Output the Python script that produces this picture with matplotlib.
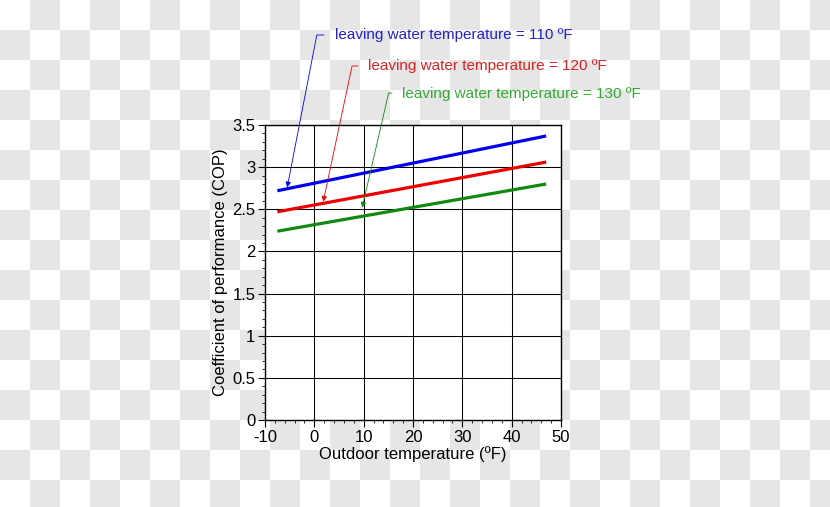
import numpy as np
import matplotlib
matplotlib.use("Agg")
import matplotlib.pyplot as plt

plt.rcParams["font.family"] = ["Liberation Sans", "DejaVu Sans"]
plt.rcParams["axes.unicode_minus"] = False

# data
outdoor = [-7.5, 47]
cop_110 = [2.72, 3.37]
cop_120 = [2.47, 3.06]
cop_130 = [2.24, 2.80]
labels = ["leaving water temperature = 110 ºF",
          "leaving water temperature = 120 ºF",
          "leaving water temperature = 130 ºF"]
colors = ["#0000ee", "#ee0000", "#108a10"]
text_colors = ["#2222cc", "#dd2222", "#33aa33"]
# where each arrow points (data coords)
arrow_tips = [(-5.5, 2.76), (1.8, 2.59), (9.7, 2.52)]

W, H = 830, 507
fig = plt.figure(figsize=(W / 100, H / 100), dpi=100)

# checkerboard backdrop
bg = fig.add_axes([0, 0, 1, 1])
cell = 30
ny, nx = H // cell + 1, W // cell + 1
board = np.indices((ny, nx)).sum(axis=0) % 2
bg.imshow(board, cmap=matplotlib.colors.ListedColormap(["white", "#e6e6e6"]),
          extent=[0, nx * cell, ny * cell, 0], interpolation="nearest")
bg.set_xlim(0, W)
bg.set_ylim(H, 0)
bg.axis("off")

ax = fig.add_axes([265 / W, 87 / H, 296 / W, 295 / H])
ax.set_facecolor("white")
for y, c in zip([cop_110, cop_120, cop_130], colors):
    ax.plot(outdoor, y, color=c, lw=2.3, solid_capstyle="butt")

ax.set_xlim(-10, 50)
ax.set_ylim(0, 3.5)
ax.set_xticks(np.arange(-10, 51, 10))
ax.set_yticks(np.arange(0, 3.51, 0.5))
ax.set_yticklabels(["0", "0.5", "1", "1.5", "2", "2.5", "3", "3.5"])
ax.set_xticks(np.arange(-10, 51, 2), minor=True)
ax.set_yticks(np.arange(0, 3.51, 0.1), minor=True)
ax.grid(True, which="major", color="black", lw=0.75)
ax.tick_params(which="major", direction="out", length=5, width=0.8, labelsize=12, pad=2)
ax.tick_params(which="minor", direction="out", length=2.5, width=0.6)
for s in ax.spines.values():
    s.set_linewidth(1.0)
ax.set_xlabel("Outdoor temperature (ºF)", fontsize=12, labelpad=1)
ax.set_ylabel("Coefficient of performance (COP)", fontsize=12, labelpad=3)

# callouts: text position and hook start in figure pixels (from top)
text_pos = [(335, 35), (368, 66), (402, 94)]
hook_pos = [(324, 35), (358, 66), (392, 93)]
angles = [79, 78, 77]
for lab, tc, c, tp, hp, tip, a in zip(labels, text_colors, colors, text_pos,
                                      hook_pos, arrow_tips, angles):
    fig.text(tp[0] / W, 1 - tp[1] / H, lab, color=tc, fontsize=11, va="center", ha="left")
    ax.annotate("", xy=tip, xycoords="data",
                xytext=(hp[0] / W, 1 - hp[1] / H), textcoords="figure fraction",
                arrowprops=dict(arrowstyle="-|>", color=c, lw=0.6, mutation_scale=8,
                                shrinkA=0, shrinkB=0,
                                connectionstyle="angle,angleA=0,angleB=%d,rad=0" % a),
                annotation_clip=False)

fig.savefig("out.png", dpi=100)
